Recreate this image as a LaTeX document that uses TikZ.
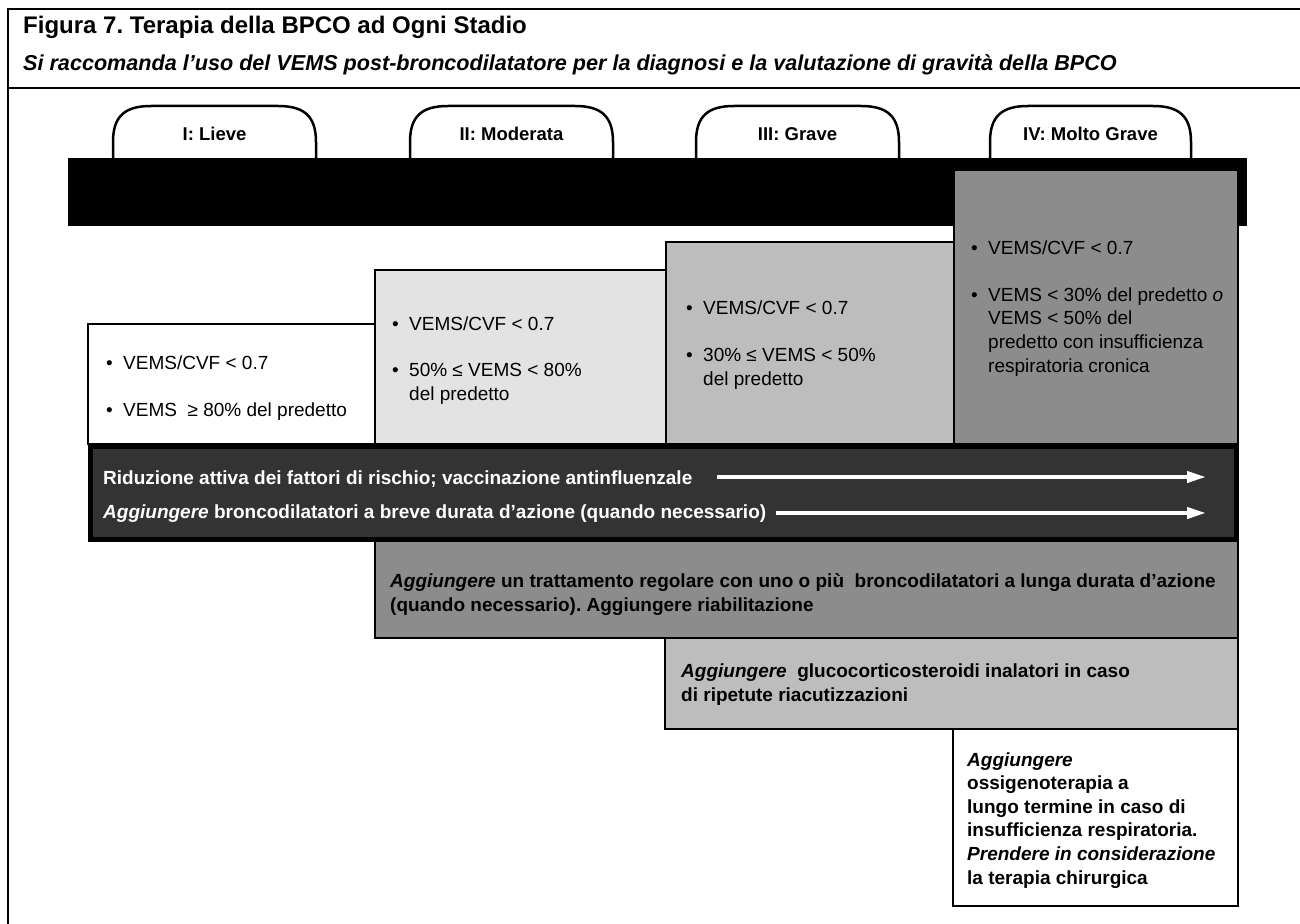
\documentclass[tikz,border=0pt]{standalone}
\usepackage{fontspec}
\setmainfont{Liberation Sans}
\usepackage{xcolor}
\usepackage{tikz}
\usetikzlibrary{shapes,arrows.meta,positioning,calc}
\frenchspacing

\definecolor{grigiochiaro}{HTML}{E3E3E3}
\definecolor{grigiomedio}{HTML}{BDBDBD}
\definecolor{grigioscuro}{HTML}{8C8C8C}
\definecolor{fondobarra}{HTML}{333333}

\tikzset{
    testo/.style={anchor=base west, inner sep=0pt, align=left, font=\fontsize{19}{23.6}\selectfont},
    testob/.style={testo, font=\bfseries\fontsize{19}{23.6}\selectfont},
    riquadro/.style={draw=black, line width=2pt},
    linguetta/.style={draw=black, fill=white, line width=2.5pt},
    etichetta/.style={anchor=base, inner sep=0pt, font=\bfseries\fontsize{18.5}{22}\selectfont},
    freccia/.style={white, line width=4pt, -{Triangle[length=19pt,width=11pt]}},
}
\newcommand{\pallino}{\makebox[17pt][l]{•}}
\newcommand{\rientro}{\hspace*{17pt}}

\begin{document}
\begin{tikzpicture}[x=1pt, y=-1pt]
    \useasboundingbox (0,0) rectangle (1300,923);
    % cornice e intestazione
    \draw[line width=2.5pt] (1302,9) -- (8,9) -- (8,925);
    \draw[line width=2.5pt] (8,88) -- (1302,88);
    \node[anchor=base west, inner sep=0pt, font=\bfseries\fontsize{24}{28}\selectfont] (titolo) at (23,34) {Figura 7. Terapia della BPCO ad Ogni Stadio};
    \node[anchor=base west, inner sep=0pt, font=\bfseries\itshape\fontsize{21.6}{25}\selectfont] (sottotitolo) at (23,71) {Si raccomanda l’uso del VEMS post-broncodilatatore per la diagnosi e la valutazione di gravità della BPCO};

    % linguette degli stadi
    \foreach \xa/\xb/\nome/\testo in {113/316/lieve/{I: Lieve}, 410/613/moderata/{II: Moderata}, 696/899/grave/{III: Grave}, 990/1191/moltograve/{IV: Molto Grave}} {
        \draw[linguetta] (\xa,162) -- (\xa,142) .. controls (\xa,116) and (\xa+12,106) .. (\xa+38,106) -- (\xb-38,106) .. controls (\xb-12,106) and (\xb,116) .. (\xb,142) -- (\xb,162);
        \node[etichetta] (\nome) at ({(\xa+\xb)/2},140) {\testo};
    }
    \fill[black] (68,158) rectangle (1247,226);

    % riquadri della classificazione
    \draw[riquadro, fill=grigioscuro] (954,170) rectangle (1238,444);
    \draw[riquadro, fill=grigiomedio] (666,242) rectangle (954,444);
    \draw[riquadro, fill=grigiochiaro] (375,270) rectangle (666,444);
    \draw[riquadro, fill=white] (88,324) rectangle (375,444);

    % (le righe multiple vanno messe sulla linea di base dell'ultima riga)
    \node[testo] (lieveA) at (106,369) {\pallino VEMS/CVF < 0.7};
    \node[testo] (lieveB) at (106,416) {\pallino VEMS \ ≥ 80\% del predetto};
    \node[testo] (moderataA) at (392,330) {\pallino VEMS/CVF < 0.7};
    \node[testo] (moderataB) at (392,400) {\pallino 50\% ≤ VEMS < 80\%\\ \rientro del predetto};
    \node[testo] (graveA) at (686,314) {\pallino VEMS/CVF < 0.7};
    \node[testo] (graveB) at (686,385) {\pallino 30\% ≤ VEMS < 50\%\\ \rientro del predetto};
    \node[testo] (moltograveA) at (971,254) {\pallino VEMS/CVF < 0.7};
    \node[testo] (moltograveB) at (971,372) {\pallino VEMS < 30\% del predetto \textit{o}\\ \rientro VEMS < 50\% del\\ \rientro predetto con insufficienza\\ \rientro respiratoria cronica};

    % barra dei trattamenti comuni
    \draw[line width=5pt, fill=fondobarra] (90,446) rectangle (1236,539);
    \node[testob, text=white] (riduzione) at (103,484) {Riduzione attiva dei fattori di rischio; vaccinazione antinfluenzale};
    \node[testob, text=white] (brevedurata) at (103,518) {\textit{Aggiungere} broncodilatatori a breve durata d’azione (quando necessario)};
    \coordinate (inizio1) at (717,477);
    \coordinate (fine1) at (1206,477);
    \coordinate (inizio2) at (776,513);
    \coordinate (fine2) at (1206,513);
    \draw[freccia] (inizio1) -- (fine1);
    \draw[freccia] (inizio2) -- (fine2);

    % trattamenti aggiuntivi
    \draw[riquadro, fill=grigioscuro] (375,541) rectangle (1238,638);
    \node[testob] (lungadurata) at (390,611) {\textit{Aggiungere} un trattamento regolare con uno o più \ broncodilatatori a lunga durata d’azione\\(quando necessario). Aggiungere riabilitazione};
    \draw[riquadro, fill=grigiomedio] (665,638) rectangle (1238,729);
    \node[testob] (inalatori) at (681,701) {\textit{Aggiungere} \ glucocorticosteroidi inalatori in caso\\di ripetute riacutizzazioni};
    \draw[riquadro, fill=white] (953,729) rectangle (1238,906);
    \node[testob] (ossigeno) at (967,884) {\textit{Aggiungere}\\ossigenoterapia a\\lungo termine in caso di\\insufficienza respiratoria.\\\textit{Prendere in considerazione}\\la terapia chirurgica};
\end{tikzpicture}
\end{document}
